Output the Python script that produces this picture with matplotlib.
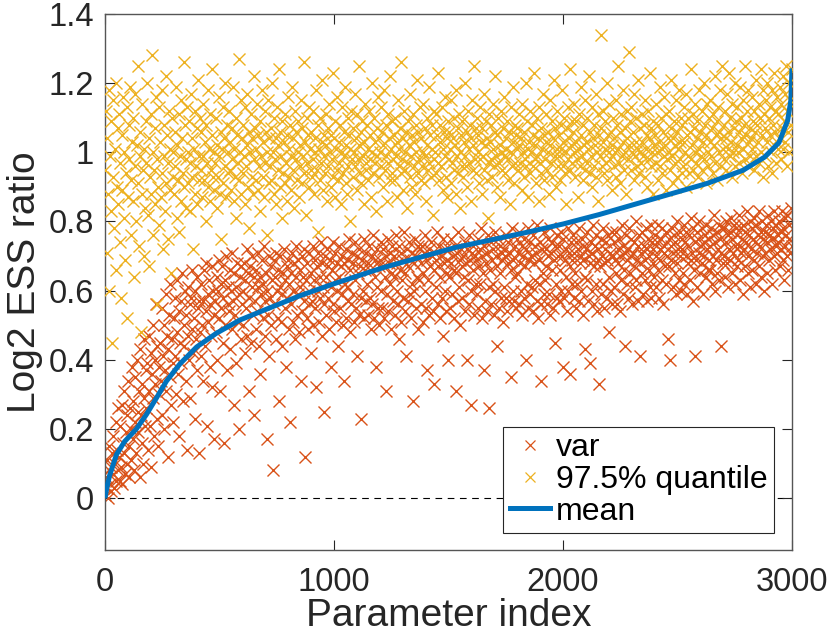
import matplotlib
matplotlib.use("Agg")
import matplotlib.pyplot as plt
import numpy as np
from matplotlib.lines import Line2D

# parameter index of the plotted samples (every 3rd parameter)
param_index = list(range(1, 3001, 3))

# var: log2 ESS ratio, in hundredths
var_pct = [
 1,6,3,11,0,8,15,4,9,2,13,7,18,3,10,22,5,14,8,26,
 12,5,21,9,27,4,16,13,31,7,19,24,10,34,15,6,26,20,11,38,
 17,28,8,35,22,13,40,25,19,31,6,43,24,16,33,10,29,46,21,37,
 26,39,14,47,31,21,42,9,36,50,29,18,40,33,56,23,44,15,38,30,
 45,34,55,24,41,50,20,37,59,31,47,12,43,53,35,62,27,46,39,22,
 52,41,58,30,48,63,36,54,18,45,57,39,65,28,50,44,60,34,53,14,
 47,61,40,56,29,58,49,66,42,52,23,60,46,64,37,55,13,57,48,41,
 62,50,57,34,66,44,54,68,21,59,51,63,38,56,47,67,32,60,53,17,
 57,48,64,40,60,69,52,31,62,55,67,45,58,16,63,50,70,37,56,61,
 54,66,43,60,71,49,57,27,65,53,61,39,68,51,59,20,64,46,67,56,
 60,50,68,42,63,55,72,47,65,31,58,67,45,61,70,53,24,64,57,49,
 66,54,61,71,44,64,36,59,69,52,62,73,47,57,65,17,60,53,70,41,
 58,67,50,63,8,69,56,64,46,71,60,52,66,28,61,70,51,59,44,65,
 72,55,63,38,67,58,69,49,62,22,65,56,71,51,60,68,46,64,73,53,
 59,69,48,66,61,34,70,54,64,57,72,12,63,52,68,49,60,71,56,42,
 65,57,73,50,63,69,55,32,67,60,71,51,64,58,74,47,68,61,25,56,
 70,53,64,72,58,67,49,69,61,38,66,56,74,54,63,71,51,68,60,44,
 64,73,55,67,59,70,50,34,68,62,72,52,61,69,57,75,48,66,56,71,
 59,68,51,74,63,55,70,41,65,72,53,67,58,23,69,60,75,52,66,57,
 71,62,53,68,73,58,66,49,70,56,76,52,64,69,38,61,72,55,67,50,
 69,60,74,55,67,72,52,64,70,31,59,75,54,68,62,71,49,65,73,57,
 64,70,53,76,60,68,56,73,46,66,71,51,63,69,58,77,54,65,41,72,
 57,67,74,59,69,52,71,62,28,68,60,75,55,70,64,73,49,63,72,56,
 68,73,51,65,71,60,76,55,69,37,63,72,53,67,74,58,70,54,66,33,
 71,61,69,77,56,67,73,52,64,70,58,75,47,68,60,72,54,69,65,40,
 64,72,55,68,75,59,70,52,66,73,31,65,71,57,77,61,69,50,72,67,
 58,70,64,74,54,68,72,40,63,76,56,69,60,27,71,66,73,53,70,62,
 69,59,75,55,67,72,62,78,52,70,65,37,73,57,68,71,54,76,61,26,
 66,74,56,69,62,72,53,77,60,70,67,44,75,55,65,73,58,69,71,51,
 72,61,70,58,76,54,68,74,57,71,35,66,78,60,69,57,73,64,55,75,
 65,71,56,77,68,60,73,53,70,75,58,67,40,72,62,78,55,69,74,59,
 70,61,76,54,68,73,63,71,57,79,52,69,62,74,56,34,72,65,77,59,
 63,72,67,56,75,70,59,78,53,71,66,74,55,69,45,73,62,76,58,70,
 73,57,66,77,60,70,38,75,58,69,72,64,54,78,60,71,67,36,74,62,
 69,76,58,71,65,55,74,62,72,78,57,68,70,60,75,53,69,73,64,43,
 72,63,77,57,70,39,68,74,60,71,79,56,67,73,62,76,54,69,72,33,
 67,75,59,70,62,78,55,72,68,74,58,69,76,48,64,71,60,77,56,70,
 74,61,69,65,77,56,72,68,75,54,70,63,79,59,73,66,71,44,76,62,
 69,72,58,78,65,70,75,56,71,67,74,61,80,63,69,73,57,76,68,41,
 71,65,77,59,73,69,63,78,57,72,75,66,70,61,79,58,74,68,72,64,
 76,61,70,74,66,79,58,72,69,75,63,78,56,71,73,67,77,62,70,46,
 67,75,40,73,69,78,61,71,76,65,74,59,80,68,72,63,77,70,60,75,
 72,65,79,62,74,70,77,59,73,68,76,63,81,69,71,57,78,66,74,41,
 69,77,61,75,71,80,65,73,68,78,59,74,70,76,64,79,72,66,75,69,
 73,66,78,62,76,70,82,60,74,69,77,65,72,79,63,75,71,44,78,68,
 70,78,64,74,80,68,76,61,72,77,69,81,65,75,71,79,62,73,78,67,
 76,69,73,82,63,78,71,75,59,79,72,67,77,74,83,65,70,76,61,80,
 72,78,66,75,81,69,74,62,79,71,76,83,67,73,77,64,80,70,75,60,
 77,71,79,65,74,82,69,76,72,80,62,75,78,70,83,66,73,79,71,76,
 74,80,67,77,72,83,69,78,63,81,73,76,70,82,66,79,75,71,84,73,
]

# 97.5% quantile: log2 ESS ratio, in hundredths
q975_pct = [
 95,112,71,104,88,118,60,99,83,109,45,93,115,78,101,120,66,90,107,85,
 111,74,97,58,105,89,116,81,100,69,94,113,52,87,108,98,119,76,92,103,
 86,110,64,96,117,80,102,91,125,73,99,106,48,88,114,95,70,101,84,109,
 97,120,82,104,67,93,111,88,128,100,76,95,107,85,116,56,98,90,113,79,
 103,87,118,94,72,108,99,83,122,91,105,75,97,112,89,101,65,110,93,100,
 88,106,96,119,81,102,92,111,77,99,115,86,104,94,126,90,108,98,84,113,
 100,91,109,83,97,117,93,104,72,101,112,88,96,107,85,121,99,92,110,95,
 106,87,99,114,92,103,80,108,97,118,90,101,86,111,95,105,124,93,100,89,
 97,110,84,102,93,116,99,88,106,75,101,113,91,104,96,120,87,108,94,100,
 112,95,103,89,107,98,119,86,101,93,110,81,105,97,127,92,100,115,88,104,
 94,108,99,85,113,96,102,117,90,106,78,100,111,93,104,88,122,98,107,92,
 101,114,89,105,96,109,83,99,118,93,103,87,112,97,106,76,100,115,91,104,
 96,107,92,120,100,88,110,98,104,85,113,95,102,124,90,106,99,81,109,94,
 103,91,111,97,86,105,116,93,101,108,89,99,119,95,104,84,112,98,106,92,
 100,109,87,102,96,115,91,107,99,126,94,103,82,110,97,105,113,90,101,95,
 106,93,98,112,88,104,100,118,95,108,77,101,92,110,97,103,121,89,105,99,
 94,111,102,86,107,96,114,100,90,105,98,123,93,104,87,109,101,95,116,92,
 103,97,108,85,100,113,94,106,99,119,91,102,88,110,96,105,80,101,112,98,
 107,93,100,117,96,104,89,111,98,102,125,94,106,91,109,99,85,103,114,97,
 95,108,101,92,112,98,105,87,120,100,94,110,97,103,83,107,99,116,93,104,
 100,113,96,106,90,102,118,95,108,99,86,111,97,104,92,122,101,94,109,98,
 105,92,110,99,87,103,115,96,101,107,94,126,98,104,89,112,100,95,106,84,
 97,109,102,93,117,99,105,90,111,96,103,88,108,100,121,94,106,98,113,92,
 104,96,100,114,91,107,99,86,110,102,95,119,97,105,93,108,101,82,112,98,
 100,111,94,105,97,123,92,103,108,96,113,89,101,106,99,116,93,104,87,109,
 98,106,101,91,115,97,104,110,95,102,88,118,99,107,94,111,100,84,105,96,
 109,93,103,99,120,96,106,90,112,101,97,108,86,104,115,95,102,125,98,107,
 94,110,100,105,91,113,98,103,88,107,99,117,95,102,109,92,104,81,111,97,
 103,98,108,93,114,101,96,106,122,99,90,105,110,97,102,87,112,100,95,107,
 99,116,94,104,101,109,92,98,106,85,113,100,96,119,103,91,108,97,105,101,
 107,95,102,111,97,104,89,114,100,106,93,98,120,96,109,101,87,103,112,94,
 100,108,96,105,123,98,102,91,110,99,104,86,113,97,107,94,101,117,92,105,
 98,103,111,95,106,100,88,115,102,97,109,93,104,121,99,107,90,101,112,96,
 105,99,92,108,101,118,96,103,110,94,100,85,107,113,98,104,124,95,102,109,
 97,106,100,114,93,103,109,98,87,111,101,96,105,119,99,92,108,102,115,95,
 103,110,97,101,122,94,106,99,113,90,104,108,96,102,117,93,100,111,86,105,
 99,107,134,96,103,112,94,101,109,97,120,92,105,100,114,98,106,89,102,110,
 96,104,100,115,93,108,101,125,97,106,91,111,99,103,118,95,107,100,88,112,
 104,98,129,102,109,95,113,100,106,92,117,99,103,110,96,121,101,94,107,100,
 97,111,103,99,108,93,115,101,105,90,112,98,104,123,96,107,100,88,109,102,
 105,97,114,100,92,108,103,119,96,110,101,94,106,99,116,102,89,111,98,104,
 100,112,95,107,121,99,104,91,109,102,97,115,93,106,101,118,98,103,110,94,
 108,96,103,113,100,90,117,105,99,110,94,106,124,98,102,111,95,107,100,114,
 97,104,109,93,118,101,106,99,112,95,103,120,98,108,91,105,114,100,96,110,
 103,115,99,107,94,111,102,122,97,105,109,92,113,100,106,118,96,104,125,101,
 108,98,112,104,95,117,101,106,123,99,110,103,93,114,100,107,120,96,109,102,
 113,100,106,97,119,104,110,94,115,101,108,125,98,105,112,96,118,103,107,99,
 104,116,101,109,95,112,106,121,99,108,103,114,97,110,124,100,105,118,93,111,
 107,99,115,103,120,96,110,105,113,100,118,94,108,102,123,106,97,112,116,101,
 111,104,119,98,114,107,122,101,109,117,103,125,96,112,106,120,100,115,108,124,
]

# mean curve (sorted ascending), read at vertices
mean_index = [0, 8, 20, 50, 86, 137, 181, 225, 268, 327, 400, 487, 589, 700,
              850, 1000, 1217, 1374, 1531, 1688, 1845, 2002, 2158, 2315, 2472,
              2629, 2786, 2880, 2943, 2981, 2995, 3000]
mean_value = [0.0, 0.03, 0.065, 0.126, 0.164, 0.200, 0.242, 0.29, 0.338,
              0.388, 0.437, 0.477, 0.515, 0.545, 0.585, 0.620, 0.667, 0.696,
              0.725, 0.747, 0.769, 0.793, 0.820, 0.850, 0.880, 0.910, 0.948,
              0.986, 1.028, 1.092, 1.15, 1.243]

xticks = [0, 1000, 2000, 3000]
yticks = [0, 0.2, 0.4, 0.6, 0.8, 1.0, 1.2, 1.4]
ytick_labels = ["0", "0.2", "0.4", "0.6", "0.8", "1", "1.2", "1.4"]

c_var = "#D95319"
c_q = "#EDB120"
c_mean = "#0072BD"
axcol = "#262626"
MS, MEW = 8.5, 1.0

plt.rcParams["font.family"] = ["Liberation Sans", "DejaVu Sans"]

fig = plt.figure(figsize=(8.30, 6.42), dpi=100)
ax = fig.add_axes([0.1265, 0.1433, 0.8277, 0.8349])

ax.plot([0, 3000], [0, 0], linestyle=(0, (6, 5)), color="black", lw=0.8, zorder=1)

xv = np.array(param_index)
ax.plot(xv, np.array(var_pct) / 100.0, linestyle="none", marker="x",
        ms=MS, mew=MEW, color=c_var, zorder=2)
ax.plot(xv, np.array(q975_pct) / 100.0, linestyle="none", marker="x",
        ms=MS, mew=MEW, color=c_q, zorder=3)
ax.plot(mean_index, mean_value, color=c_mean, lw=3.6, zorder=4,
        solid_capstyle="butt", solid_joinstyle="round")

ax.set_xlim(0, 3000)
ax.set_ylim(-0.15, 1.4)
ax.set_xticks(xticks)
ax.set_yticks(yticks)
ax.set_yticklabels(ytick_labels)
ax.tick_params(direction="in", length=7, width=0.8, top=True, right=True,
               labelsize=23.5, colors=axcol, pad=8)
ax.tick_params(axis="x", pad=12)
for s in ax.spines.values():
    s.set_color("#555555")
    s.set_linewidth(1.0)

ax.set_xlabel("Parameter index", fontsize=28, color=axcol, labelpad=0)
ax.set_ylabel("Log2 ESS ratio", fontsize=28, color=axcol, labelpad=4)

handles = [
    Line2D([], [], linestyle="none", marker="x", ms=7.5, mew=0.9, color=c_var),
    Line2D([], [], linestyle="none", marker="x", ms=7.5, mew=0.9, color=c_q),
    Line2D([], [], color=c_mean, lw=3.6),
]
leg = ax.legend(handles, ["var", "97.5% quantile", "mean"], loc="lower right",
                bbox_to_anchor=(0.9738, 0.0317), fontsize=23, frameon=True,
                fancybox=False, borderpad=0.2, labelspacing=0.05,
                handlelength=1.25, handletextpad=0.2, borderaxespad=0)
leg.get_frame().set_edgecolor("#262626")
leg.get_frame().set_linewidth(0.8)
leg.get_frame().set_alpha(1)

fig.savefig("out.png", dpi=100)
